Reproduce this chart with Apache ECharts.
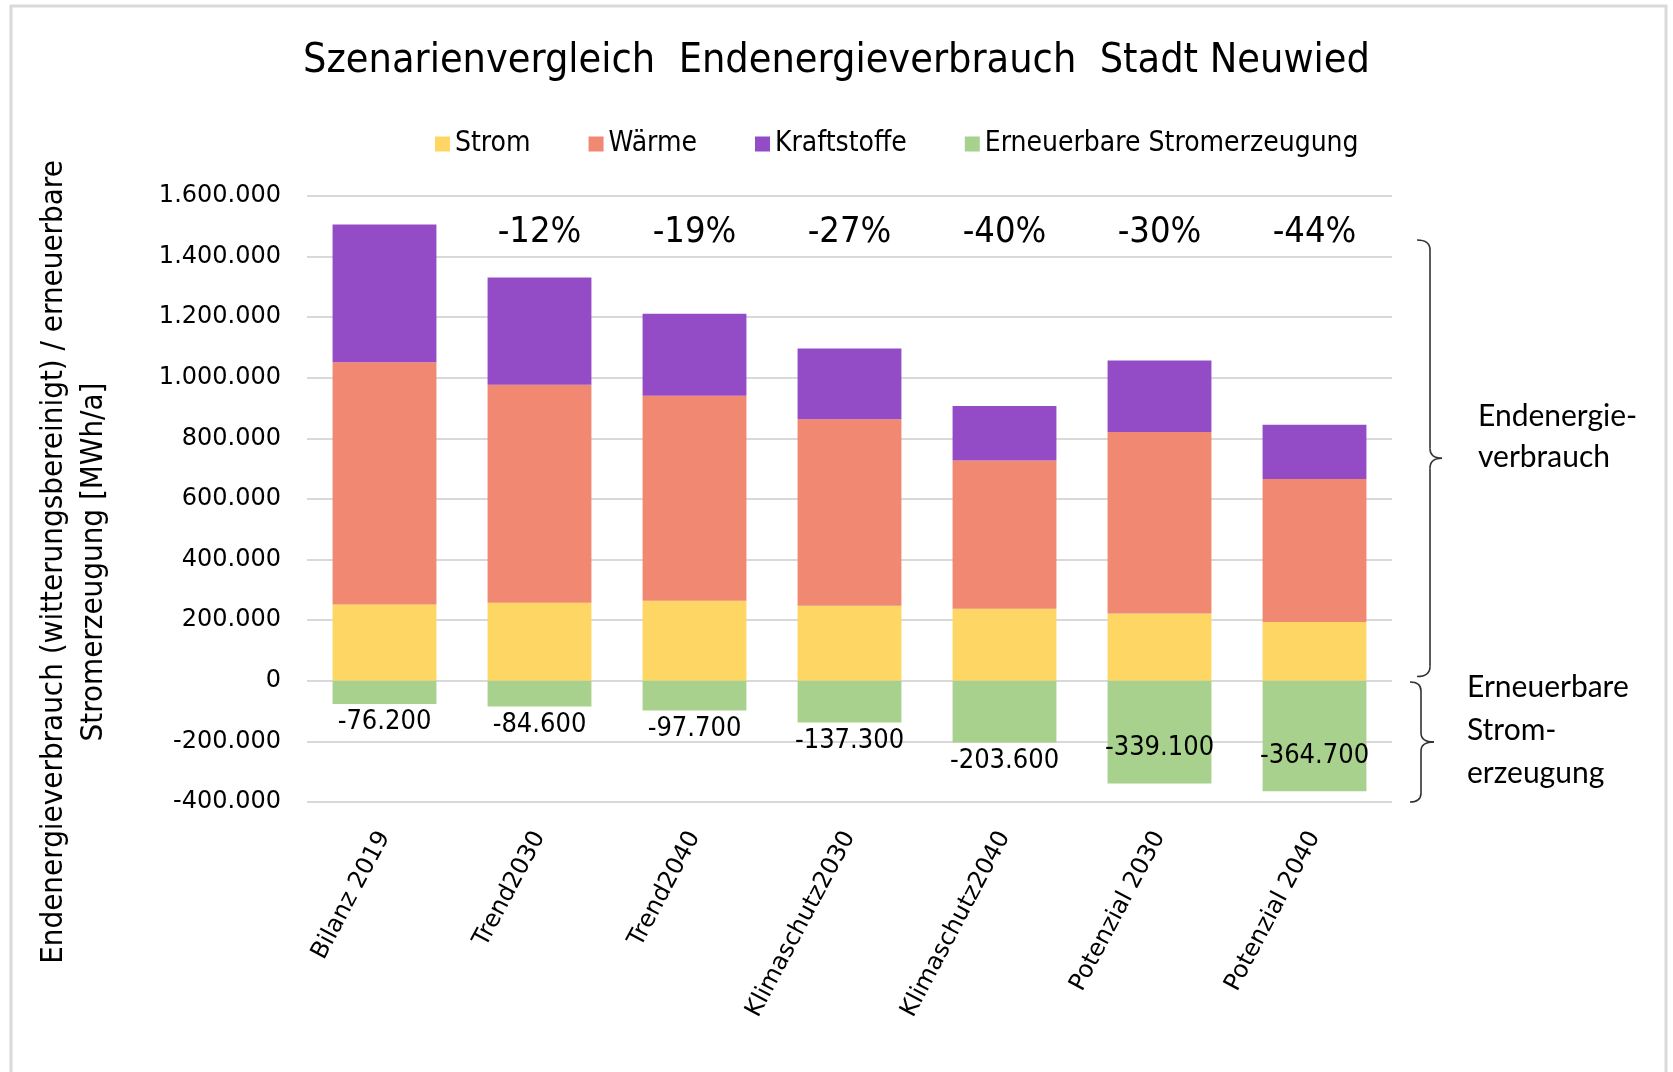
<!DOCTYPE html>
<html>
<head>
<meta charset="utf-8">
<script src="https://cdn.jsdelivr.net/npm/echarts@6/dist/echarts.min.js"></script>
<style>
  html, body { margin: 0; padding: 0; background: #fff; }
  #chart { width: 1673px; height: 1072px; }
</style>
</head>
<body>
<div id="chart"></div>
<script>
var scenarios = ['Bilanz 2019', 'Trend2030', 'Trend2040', 'Klimaschutz2030', 'Klimaschutz2040', 'Potenzial 2030', 'Potenzial 2040'];
var strom = [252000, 258000, 264000, 248000, 238000, 222000, 194000];
var waerme = [799000, 719000, 677000, 615000, 489000, 599000, 472000];
var kraftstoffe = [455000, 354000, 270000, 234000, 180000, 236000, 179000];
var erneuerbar = [-76200, -84600, -97700, -137300, -203600, -339100, -364700];
var reduction = ['', '-12%', '-19%', '-27%', '-40%', '-30%', '-44%'];
var reductionRow = 1480000;

var condensed = "'DejaVu Sans Condensed', 'Liberation Sans Narrow', sans-serif";
var wide = "'DejaVu Sans', Verdana, sans-serif";
var calibri = "Lato, 'Open Sans', sans-serif";

function dots(v) {
    return String(v).replace(/\B(?=(\d{3})+(?!\d))/g, '.');
}

loadChart();

function loadChart() {
    var chart = echarts.init(document.getElementById('chart'));

    var greenData = erneuerbar.map(function (v) {
        var inside = v < -300000;
        return {
            value: v,
            label: {
                position: inside ? 'insideBottom' : 'bottom',
                distance: inside ? 22 : 5
            }
        };
    });

    var option = {
        animation: false,
        title: {
            text: 'Szenarienvergleich  Endenergieverbrauch  Stadt Neuwied',
            left: 'center',
            top: 36,
            textStyle: { fontFamily: condensed, fontSize: 41, fontWeight: 'normal', color: '#000' }
        },
        legend: {
            data: ['Strom', 'Wärme', 'Kraftstoffe', 'Erneuerbare Stromerzeugung'],
            left: 430,
            top: 125,
            itemWidth: 15,
            itemHeight: 15,
            itemGap: 58,
            icon: 'rect',
            textStyle: { fontFamily: condensed, fontSize: 28, color: '#000' }
        },
        grid: { left: 307, right: 281, top: 196, bottom: 270 },
        xAxis: {
            type: 'category',
            data: scenarios,
            axisLine: { show: false, onZero: false },
            axisTick: { show: false },
            axisLabel: {
                rotate: 62,
                margin: 31,
                fontFamily: 'DejaVu Sans',
                fontSize: 24,
                color: '#000'
            }
        },
        yAxis: {
            type: 'value',
            min: -400000,
            max: 1600000,
            interval: 200000,
            axisLabel: {
                margin: 26,
                fontFamily: wide,
                fontSize: 24,
                color: '#000',
                formatter: dots
            },
            splitLine: { lineStyle: { color: '#d9d9d9', width: 2 } }
        },
        series: [{
            name: 'Strom',
            type: 'bar',
            stack: 'total',
            barCategoryGap: '33%',
            itemStyle: { color: '#fdd663' },
            data: strom
        }, {
            name: 'Wärme',
            type: 'bar',
            stack: 'total',
            itemStyle: { color: '#f08872' },
            data: waerme
        }, {
            name: 'Kraftstoffe',
            type: 'bar',
            stack: 'total',
            itemStyle: { color: '#934cc6' },
            data: kraftstoffe
        }, {
            name: 'Erneuerbare Stromerzeugung',
            type: 'bar',
            stack: 'total',
            itemStyle: { color: '#a9d18e' },
            label: {
                show: true,
                fontFamily: condensed,
                fontSize: 27,
                color: '#000',
                formatter: function (p) { return dots(p.value); }
            },
            data: greenData
        }, {
            name: 'reduction',
            type: 'scatter',
            symbolSize: 0,
            silent: true,
            itemStyle: { opacity: 1 },
            label: {
                show: true,
                position: 'inside',
                fontFamily: condensed,
                fontSize: 36,
                color: '#000',
                opacity: 1,
                formatter: function (p) { return reduction[p.dataIndex]; }
            },
            data: reduction.map(function () { return reductionRow; })
        }]
    };

    chart.setOption(option);

    // braces and notes on the right, hooked to the value scale
    var y = function (v) { return chart.convertToPixel({ yAxisIndex: 0 }, v); };
    var braceStyle = { fill: null, stroke: '#333', lineWidth: 1.6 };

    function brace(x0, x1, xt, top, bot, r) {
        var mid = (top + bot) / 2;
        var curve = function (ax, ay, cx, cy, bx, by) {
            return { type: 'bezierCurve', shape: { x1: ax, y1: ay, x2: bx, y2: by, cpx1: cx, cpy1: cy }, style: braceStyle };
        };
        var line = function (ax, ay, bx, by) {
            return { type: 'line', shape: { x1: ax, y1: ay, x2: bx, y2: by }, style: braceStyle };
        };
        return [
            curve(x0, top, x1, top, x1, top + r),
            line(x1, top + r, x1, mid - r),
            curve(x1, mid - r, x1, mid, xt, mid),
            curve(xt, mid, x1, mid, x1, mid + r),
            line(x1, mid + r, x1, bot - r),
            curve(x1, bot - r, x1, bot, x0, bot)
        ];
    }

    var bigTop = y(1455000), bigBot = y(14000);
    var smallTop = y(-4000), smallBot = y(-400000);

    var graphics = [{
        type: 'rect',
        shape: { x: 11, y: 6, width: 1655, height: 1090 },
        style: { fill: null, stroke: '#d9d9d9', lineWidth: 3 }
    }, {
        type: 'text',
        x: 74,
        y: 562,
        rotation: Math.PI / 2,
        style: {
            text: 'Endenergieverbrauch (witterungsbereinigt) / erneuerbare\nStromerzeugung [MWh/a]',
            font: '31px ' + condensed,
            fill: '#000',
            align: 'center',
            verticalAlign: 'middle',
            lineHeight: 40
        }
    }, {
        type: 'text',
        x: 1478,
        y: (bigTop + bigBot) / 2 - 21,
        style: {
            text: 'Endenergie-\nverbrauch',
            font: '30px ' + calibri,
            fill: '#000',
            verticalAlign: 'middle',
            lineHeight: 41
        }
    }, {
        type: 'text',
        x: 1467,
        y: 730,
        style: {
            text: 'Erneuerbare\nStrom-\nerzeugung',
            font: '30px ' + calibri,
            fill: '#000',
            verticalAlign: 'middle',
            lineHeight: 43
        }
    }];

    graphics = graphics
        .concat(brace(1417, 1430, 1442, bigTop, bigBot, 10))
        .concat(brace(1410, 1421, 1434, smallTop, smallBot, 9));

    chart.setOption({ graphic: graphics });
}
</script>
</body>
</html>
